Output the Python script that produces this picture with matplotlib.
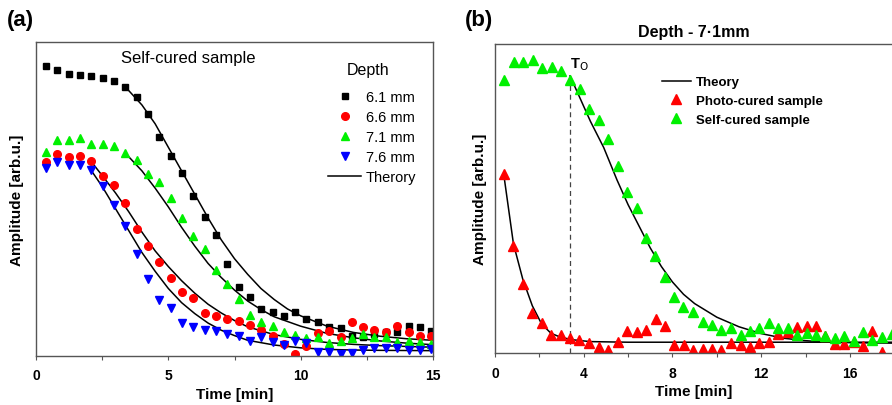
import matplotlib
matplotlib.use('Agg')
import matplotlib.pyplot as plt
from matplotlib.lines import Line2D

plt.rcParams['font.family'] = ['Liberation Sans', 'DejaVu Sans']

# ---- panel (a): self-cured sample, four depths ----
time_a = [0.38, 0.81, 1.24, 1.66, 2.09, 2.52, 2.95, 3.38, 3.80, 4.23, 4.66, 5.09,
          5.52, 5.94, 6.37, 6.80, 7.23, 7.66, 8.08, 8.51, 8.94, 9.37, 9.80, 10.22,
          10.65, 11.08, 11.51, 11.94, 12.36, 12.79, 13.22, 13.65, 14.08, 14.50, 14.93]
amp_61 = [0.923, 0.912, 0.897, 0.894, 0.892, 0.887, 0.877, 0.857, 0.826, 0.770, 0.697, 0.637,
          0.583, 0.511, 0.442, 0.386, 0.292, 0.221, 0.187, 0.150, 0.139, 0.128, 0.141, 0.118,
          0.107, 0.093, 0.090, 0.065, 0.062, 0.070, 0.075, 0.077, 0.097, 0.091, 0.079]
amp_66 = [0.617, 0.645, 0.635, 0.638, 0.620, 0.574, 0.545, 0.489, 0.404, 0.349, 0.298, 0.249,
          0.203, 0.186, 0.137, 0.126, 0.118, 0.112, 0.099, 0.084, 0.065, 0.038, 0.006, 0.033,
          0.072, 0.080, 0.061, 0.107, 0.093, 0.083, 0.075, 0.096, 0.077, 0.065, 0.065]
amp_71 = [0.649, 0.689, 0.689, 0.696, 0.675, 0.675, 0.670, 0.646, 0.625, 0.580, 0.553, 0.505,
          0.440, 0.381, 0.341, 0.274, 0.229, 0.182, 0.132, 0.108, 0.097, 0.075, 0.067, 0.056,
          0.060, 0.041, 0.049, 0.057, 0.070, 0.060, 0.060, 0.044, 0.047, 0.044, 0.038]
amp_76 = [0.599, 0.617, 0.608, 0.608, 0.592, 0.542, 0.481, 0.415, 0.325, 0.244, 0.180, 0.153,
          0.104, 0.091, 0.084, 0.079, 0.070, 0.065, 0.049, 0.061, 0.046, 0.035, 0.049, 0.040,
          0.012, 0.012, 0.006, 0.010, 0.020, 0.025, 0.026, 0.025, 0.019, 0.019, 0.022]

# theory curves
th61_t = [3.38, 4.0, 4.5, 5.0, 5.5, 6.0, 6.5, 7.0, 7.5, 8.0, 8.5, 9.0, 9.5, 10, 11, 12, 13, 14, 15]
th61_a = [0.857, 0.80, 0.74, 0.665, 0.59, 0.515, 0.44, 0.37, 0.31, 0.26, 0.215, 0.18, 0.15,
          0.128, 0.095, 0.075, 0.063, 0.055, 0.05]
th71_t = [3.38, 4.0, 4.5, 5.0, 5.5, 6.0, 6.5, 7.0, 7.5, 8.0, 8.5, 9.0, 10, 11, 12, 13, 14, 15]
th71_a = [0.646, 0.59, 0.535, 0.475, 0.41, 0.35, 0.295, 0.25, 0.21, 0.175, 0.148, 0.125,
          0.095, 0.072, 0.058, 0.048, 0.041, 0.036]
th66_t = [2.08, 2.5, 3.0, 3.5, 4.0, 4.5, 5.0, 5.5, 6.0, 6.5, 7.0, 7.5, 8.0, 9, 10, 11, 12, 13, 15]
th66_a = [0.62, 0.575, 0.52, 0.46, 0.395, 0.335, 0.285, 0.24, 0.20, 0.165, 0.137, 0.113,
          0.093, 0.068, 0.053, 0.043, 0.037, 0.033, 0.028]
th76_t = [2.08, 2.5, 3.0, 3.5, 4.0, 4.5, 5.0, 5.5, 6.0, 6.5, 7.0, 7.5, 8.0, 9, 10, 11, 12, 13, 15]
th76_a = [0.592, 0.54, 0.47, 0.40, 0.33, 0.27, 0.215, 0.17, 0.135, 0.105, 0.082, 0.065,
          0.05, 0.035, 0.026, 0.021, 0.019, 0.018, 0.017]

# ---- panel (b): depth 7.1 mm, photo- vs self-cured ----
time_self = [0.41, 0.86, 1.27, 1.70, 2.13, 2.56, 2.96, 3.38, 3.83, 4.25, 4.67, 5.10, 5.56, 5.96,
             6.38, 6.80, 7.21, 7.66, 8.07, 8.49, 8.91, 9.36, 9.79, 10.21, 10.63, 11.07, 11.49,
             11.91, 12.35, 12.77, 13.19, 13.62, 14.05, 14.47, 14.90, 15.32, 15.74, 16.18, 16.60,
             17.02, 17.45, 17.88]
amp_self = [0.884, 0.943, 0.943, 0.948, 0.921, 0.925, 0.912, 0.883, 0.854, 0.790, 0.754, 0.693,
            0.606, 0.522, 0.468, 0.371, 0.313, 0.245, 0.180, 0.148, 0.132, 0.101, 0.091, 0.075,
            0.081, 0.059, 0.070, 0.080, 0.097, 0.080, 0.081, 0.058, 0.065, 0.059, 0.054, 0.049,
            0.054, 0.038, 0.067, 0.043, 0.053, 0.061]
time_photo = [0.41, 0.83, 1.25, 1.68, 2.10, 2.52, 2.96, 3.38, 3.80, 4.24, 4.67, 5.11, 5.53, 5.96,
              6.38, 6.80, 7.24, 7.66, 8.08, 8.52, 8.94, 9.36, 9.79, 10.21, 10.63, 11.07, 11.49,
              11.91, 12.35, 12.77, 13.19, 13.62, 14.05, 14.47, 14.90, 15.32, 15.74, 16.18, 16.60,
              17.02, 17.45]
amp_photo = [0.579, 0.347, 0.223, 0.128, 0.097, 0.058, 0.058, 0.048, 0.043, 0.032, 0.020, 0.010,
             0.037, 0.072, 0.067, 0.075, 0.110, 0.086, 0.027, 0.027, 0.011, 0.013, 0.013, 0.011,
             0.032, 0.027, 0.020, 0.031, 0.035, 0.063, 0.067, 0.083, 0.088, 0.088, 0.056, 0.029,
             0.029, 0.035, 0.024, 0.070, 0.002]

thp_t = [0.41, 0.83, 1.25, 1.68, 2.10, 2.52, 2.96, 3.5, 4.28, 6.0, 10.0, 14.0, 18.0]
thp_a = [0.569, 0.353, 0.239, 0.153, 0.094, 0.064, 0.051, 0.043, 0.037, 0.035, 0.035, 0.035, 0.035]
ths_t = [3.38, 3.8, 4.3, 4.9, 5.5, 6.0, 6.5, 7.0, 7.5, 8.0, 8.5, 9.0, 10.0, 11.0, 12.0, 13.0,
         14.0, 15.0, 16.5, 18.0]
ths_a = [0.897, 0.83, 0.75, 0.665, 0.56, 0.48, 0.41, 0.34, 0.28, 0.23, 0.19, 0.16, 0.116, 0.085,
         0.063, 0.048, 0.040, 0.035, 0.033, 0.032]

t0 = 3.38       # onset time T_O
t0_amp = 0.877  # top of the dashed marker line

RED = '#ff0000'
GREEN = '#00f000'
BLUE = '#0000ff'

fig = plt.figure(figsize=(8.92, 4.06), dpi=100)
ax1 = fig.add_axes([0.0404, 0.1207, 0.445, 0.773])
ax2 = fig.add_axes([0.555, 0.128, 0.445, 0.761])

spine_col = '#555555'
for ax in (ax1, ax2):
    for s in ax.spines.values():
        s.set_color(spine_col)
        s.set_linewidth(1.0)
    ax.set_yticks([])
    ax.tick_params(axis='x', which='both', direction='out', length=3, width=0.8,
                   colors=spine_col, labelcolor='black', pad=6)

# panel (a)
for tt, aa in [(th61_t, th61_a), (th71_t, th71_a), (th66_t, th66_a), (th76_t, th76_a)]:
    ax1.plot(tt, aa, color='black', lw=1.1)
ax1.plot(time_a, amp_61, ls='none', marker='s', ms=5, color='black')
ax1.plot(time_a, amp_66, ls='none', marker='o', ms=5.5, color=RED)
ax1.plot(time_a, amp_71, ls='none', marker='^', ms=6, color=GREEN)
ax1.plot(time_a, amp_76, ls='none', marker='v', ms=6, color=BLUE)

ax1.set_xlim(0, 15)
ax1.set_ylim(0, 1)
ax1.set_xticks([0, 5, 10, 15])
ax1.set_xticks([2.5, 7.5, 12.5], minor=True)
ax1.set_xticklabels(['0', '5', '10', '15'], fontweight='bold', fontsize=10)
ax1.set_xlabel('Time [min]', fontweight='bold', fontsize=11, labelpad=3)
ax1.set_ylabel('Amplitude [arb.u.]', fontweight='bold', fontsize=11, labelpad=9)
ax1.text(0.383, 0.952, 'Self-cured sample', transform=ax1.transAxes, ha='center',
         va='center', fontsize=12)
ax1.text(0.836, 0.914, 'Depth', transform=ax1.transAxes, ha='center', va='center',
         fontsize=11.5)

handles_a = [
    Line2D([], [], ls='none', marker='s', ms=5, color='black'),
    Line2D([], [], ls='none', marker='o', ms=5.5, color=RED),
    Line2D([], [], ls='none', marker='^', ms=6, color=GREEN),
    Line2D([], [], ls='none', marker='v', ms=6, color=BLUE),
    Line2D([], [], color='black', lw=1.1),
]
ax1.legend(handles_a, ['6.1 mm', '6.6 mm', '7.1 mm', '7.6 mm', 'Therory'],
           loc='upper left', bbox_to_anchor=(0.735, 0.848),
           frameon=False, fontsize=10.5, handlelength=2.3,
           handletextpad=0.3, labelspacing=0.42, borderpad=0, borderaxespad=0)

# panel (b)
ax2.vlines(t0, 0, t0_amp, colors='#444444', linestyles=(0, (4, 3)), lw=0.9)
ax2.plot(thp_t, thp_a, color='black', lw=1.1)
ax2.plot(ths_t, ths_a, color='black', lw=1.1)
ax2.plot(time_photo, amp_photo, ls='none', marker='^', ms=7, color=RED)
ax2.plot(time_self, amp_self, ls='none', marker='^', ms=7, color=GREEN)
ax2.text(t0, 0.938, r'T$_\mathrm{O}$', fontsize=10.5, fontweight='bold', ha='left', va='center')

ax2.set_xlim(0, 17.9)
ax2.set_ylim(0, 1)
ax2.set_xticks([0, 4, 8, 12, 16])
ax2.set_xticks([2, 6, 10, 14], minor=True)
ax2.set_xticklabels(['0', '4', '8', '12', '16'], fontweight='bold', fontsize=10)
ax2.set_xlabel('Time [min]', fontweight='bold', fontsize=11, labelpad=3)
ax2.set_ylabel('Amplitude [arb.u.]', fontweight='bold', fontsize=11, labelpad=6)
ax2.set_title('Depth - 7\u00b71mm', fontweight='bold', fontsize=11.5, pad=6)
ax2.spines['right'].set_visible(False)

handles_b = [
    Line2D([], [], color='black', lw=1.1),
    Line2D([], [], ls='none', marker='^', ms=7, color=RED),
    Line2D([], [], ls='none', marker='^', ms=7, color=GREEN),
]
ax2.legend(handles_b, ['Theory', 'Photo-cured sample', 'Self-cured sample'],
           loc='upper left', bbox_to_anchor=(0.42, 0.897), frameon=False,
           prop={'weight': 'bold', 'size': 9.5}, handlelength=2.2, handletextpad=0.4,
           labelspacing=0.5, borderpad=0, borderaxespad=0)

fig.text(0.008, 0.95, '(a)', fontsize=16, fontweight='bold', va='center', ha='left')
fig.text(0.521, 0.95, '(b)', fontsize=16, fontweight='bold', va='center', ha='left')

fig.savefig('out.png', dpi=100)
